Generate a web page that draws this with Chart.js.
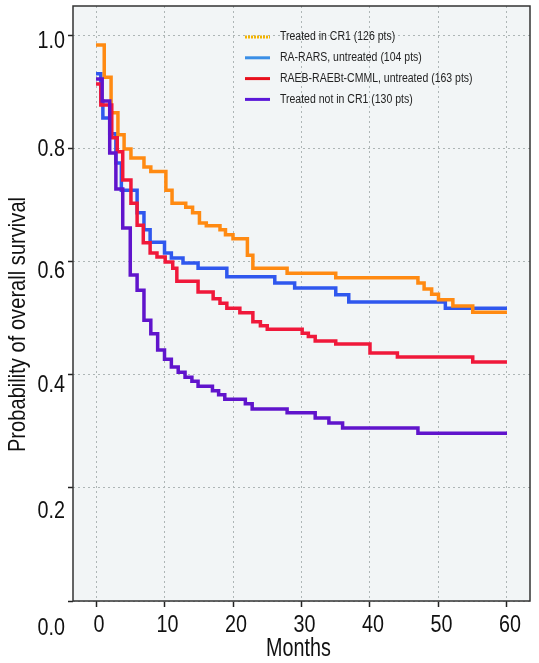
<!DOCTYPE html>
<html><head><meta charset="utf-8">
<script src="https://cdn.jsdelivr.net/npm/chart.js@4.4.1/dist/chart.umd.min.js"></script>
<style>html,body{margin:0;padding:0;background:#fff;}#wrap{width:539px;height:663px;}</style>
</head><body><div id="wrap"><canvas id="c" width="539" height="663"></canvas></div>
<script>
const seriesNames = ['Treated in CR1 (126 pts)','RA-RARS, untreated (104 pts)','RAEB-RAEBt-CMML, untreated (163 pts)','Treated not in CR1 (130 pts)'];

const cr1Months = [0,1.2,2.2,3.2,4.1,5.1,7.0,8.0,10.2,11.1,13.1,14.1,15.1,16.1,18.1,18.9,20.0,22.1,22.9,27.9,35.0,47.0,47.9,49.0,50.0,52.1,55.0,60];
const cr1Surv   = [0.984,0.927,0.864,0.825,0.800,0.784,0.768,0.760,0.727,0.704,0.697,0.687,0.669,0.664,0.657,0.648,0.641,0.612,0.589,0.580,0.572,0.563,0.552,0.543,0.533,0.522,0.511,0.511];

const raMonths = [0,0.7,1.0,2.0,2.9,3.7,6.0,7.0,7.9,10.0,11.0,12.7,14.9,19.1,26.1,29.0,35.0,36.9,51.0,60];
const raSurv   = [0.933,0.885,0.855,0.827,0.775,0.727,0.687,0.657,0.635,0.616,0.607,0.598,0.589,0.574,0.563,0.554,0.542,0.529,0.518,0.518];

const raebMonths = [0,0.7,2.3,3.1,3.9,5.1,6.0,6.9,7.9,8.9,10.1,11.2,11.8,14.9,17.1,18.1,19.1,21.0,22.9,24.0,25.0,30.1,31.0,32.0,35.0,40.0,44.0,55.0,60];
const raebSurv   = [0.915,0.878,0.820,0.795,0.745,0.704,0.665,0.634,0.616,0.609,0.600,0.589,0.566,0.547,0.535,0.527,0.518,0.510,0.494,0.487,0.481,0.474,0.468,0.460,0.455,0.439,0.432,0.423,0.423];

const notCr1Months = [0,0.9,2.0,2.9,3.9,5.0,6.0,7.0,8.0,9.0,10.0,11.0,12.0,13.0,14.0,14.9,17.0,17.9,18.8,21.8,22.8,27.9,32.0,34.0,36.0,47.0,60];
const notCr1Surv   = [0.924,0.885,0.793,0.729,0.660,0.577,0.550,0.497,0.473,0.444,0.428,0.414,0.405,0.396,0.389,0.380,0.372,0.365,0.357,0.349,0.340,0.333,0.324,0.315,0.306,0.297,0.297];

const xTickValues = [0,10,20,30,40,50,60];
const xTickLabels = ['0','10','20','30','40','50','60'];
const yTickValues = [0,0.2,0.4,0.6,0.8,1.0];
const yTickLabels = ['0.0','0.2','0.4','0.6','0.8','1.0'];
const xTitle = 'Months';
const yTitle = 'Probability of overall survival';

const FONT = "'Liberation Sans','Arimo',Arial,sans-serif";
const NARROW = 0.84;
const curveColors  = ['#ff8a12','#2f57ee','#f0183a','#6014cc'];
const legendColors = ['#f4b400','#3a8ee6','#e8101c','#5b18d8'];
const drawOrder = [2,3,1,0];
const yLabelBaselineShift = [34,30,17,16,7.5,12];

function pts(m, s){ return m.map((t,i)=>({x:t, y:s[i]})); }
const seriesData = [pts(cr1Months,cr1Surv), pts(raMonths,raSurv), pts(raebMonths,raebSurv), pts(notCr1Months,notCr1Surv)];

function narrowText(ctx, text, x, y, size, align, baseline, rot, sx){
  ctx.save();
  ctx.translate(x, y);
  if (rot) ctx.rotate(rot);
  ctx.scale(sx || NARROW, 1);
  ctx.font = size + 'px ' + FONT;
  ctx.textAlign = align; ctx.textBaseline = baseline;
  ctx.fillText(text, 0, 0);
  ctx.restore();
}

const framePlugin = {
  id:'frame',
  beforeDraw(chart){
    const {ctx, chartArea:a} = chart;
    ctx.save(); ctx.fillStyle='#f2f5f6'; ctx.fillRect(a.left,a.top,a.right-a.left,a.bottom-a.top); ctx.restore();
  },
  afterDatasetsDraw(chart){
    const {ctx, chartArea:a} = chart;
    ctx.save(); ctx.strokeStyle='#333'; ctx.lineWidth=1.5;
    ctx.strokeRect(a.left,a.top,a.right-a.left,a.bottom-a.top); ctx.restore();
  },
  afterDraw(chart){
    const {ctx, chartArea:a, scales:{x,y}} = chart;
    ctx.save();
    ctx.fillStyle='#111';
    yTickValues.forEach((v,i)=>{
      narrowText(ctx, yTickLabels[i], a.left-8, y.getPixelForValue(v)+yLabelBaselineShift[i], 23.5, 'right', 'alphabetic');
    });
    xTickValues.forEach((v,i)=>{
      narrowText(ctx, xTickLabels[i], x.getPixelForValue(v)+3, a.bottom+31, 23.5, 'center', 'alphabetic');
    });
    narrowText(ctx, xTitle, (a.left+a.right)/2-3, a.bottom+55, 25, 'center', 'alphabetic', 0, 0.79);
    narrowText(ctx, yTitle, 25, (a.top+a.bottom)/2+21, 23.7, 'center', 'alphabetic', -Math.PI/2, 0.85);
    // legend
    seriesNames.forEach((name,i)=>{
      const ly = a.top + 31 + i*20.8;
      ctx.strokeStyle = legendColors[i]; ctx.lineWidth = 3;
      ctx.setLineDash(i===0?[2,1]:[]);
      ctx.beginPath(); ctx.moveTo(a.left+172, ly); ctx.lineTo(a.left+197, ly); ctx.stroke();
      ctx.setLineDash([]);
      ctx.fillStyle='#222';
      narrowText(ctx, name, a.left+207, ly, 12.5, 'left', 'middle', 0, 0.84);
    });
    ctx.restore();
  }
};

new Chart(document.getElementById('c'), {
  type:'line',
  data:{ datasets: seriesData.map((d,i)=>({
    label: seriesNames[i], data:d, borderColor:curveColors[i], backgroundColor:curveColors[i],
    borderWidth:3.5, pointRadius:0, stepped:true, fill:false, order:drawOrder[i], borderJoinStyle:'miter', borderCapStyle:'butt'
  }))},
  options:{
    responsive:false, animation:false, devicePixelRatio:1,
    layout:{padding:{left:0,top:6,right:9,bottom:0}},
    plugins:{legend:{display:false}, tooltip:{enabled:false}},
    scales:{
      x:{ type:'linear', min:-3.36, max:63.36,
        afterBuildTicks:s=>{ s.ticks = xTickValues.map(v=>({value:v})); },
        afterFit:s=>{ s.height = 62; },
        grid:{color:'#aeb6b6', lineWidth:1, drawTicks:true, tickLength:6, tickColor:'#222', tickWidth:1.5, tickBorderDash:[]},
        border:{display:false, dash:[2,3]},
        ticks:{display:false},
        title:{display:false}
      },
      y:{ type:'linear', min:0, max:1.053,
        afterBuildTicks:s=>{ s.ticks = yTickValues.map(v=>({value:v})); },
        afterFit:s=>{ s.width = 73; },
        grid:{color:'#aeb6b6', lineWidth:1, drawTicks:true, tickLength:5, tickColor:'#222', tickWidth:1.5, tickBorderDash:[]},
        border:{display:false, dash:[2,3]},
        ticks:{display:false},
        title:{display:false}
      }
    }
  },
  plugins:[framePlugin]
});
</script></body></html>
